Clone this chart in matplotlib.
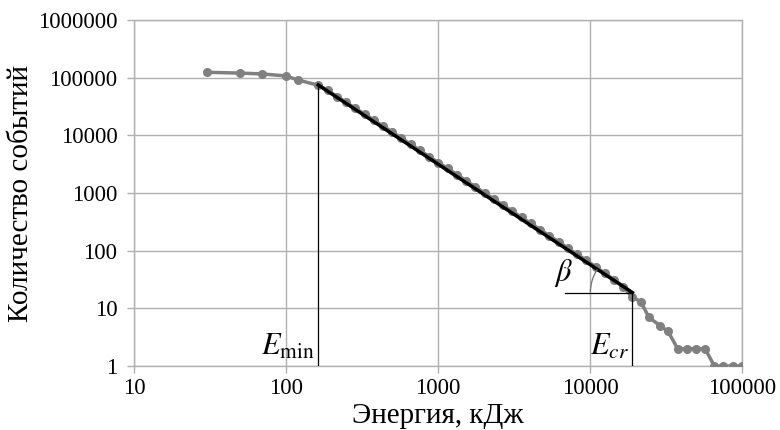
import numpy as np
import matplotlib
matplotlib.use('Agg')
import matplotlib.pyplot as plt
from matplotlib.patches import Arc
from matplotlib.transforms import IdentityTransform

plt.rcParams['font.family'] = ['Liberation Serif', 'DejaVu Serif']
plt.rcParams['mathtext.fontset'] = 'stix'

# energy bins (kJ) and number of events
energy = [30, 50, 70, 100, 120, 163, 188, 216, 248, 286, 329, 378, 435, 500, 575,
          662, 761, 875, 1007, 1158, 1332, 1532, 1762, 2027, 2332, 2682, 3085,
          3549, 4082, 4696, 5402, 6214, 7148, 8222, 9456, 10880, 12510, 14390,
          16550, 18800, 21600, 24400, 28900, 32600, 37700, 43300, 49800, 57100,
          65800, 75400, 87000, 100000]
events = [124000, 120000, 116000, 107000, 91000, 74000, 60000, 47000, 37500,
          29400, 23300, 18300, 14500, 11400, 8900, 7000, 5470, 4290, 3360, 2660,
          2080, 1630, 1280, 1000, 785, 615, 483, 378, 296, 232, 182, 143, 110,
          87, 68, 52.6, 40.7, 31.2, 23.9, 16, 13, 7, 5, 4, 2, 2, 2, 2, 1, 1, 1, 1]

# fitted power law between E_min and E_cr
fit_x = [163, 19000]
fit_y = [74700, 18.8]

x_ticks = [10, 100, 1000, 10000, 100000]
y_ticks = [1, 10, 100, 1000, 10000, 100000, 1000000]

fig = plt.figure(figsize=(7.8, 4.3), dpi=100)
ax = fig.add_axes([134 / 780, 1 - 366 / 430, 608 / 780, 346 / 430])
ax.set_xscale('log')
ax.set_yscale('log')
ax.set_xlim(10, 100000)
ax.set_ylim(1, 1000000)

grid_c = '#b0b0b0'
ax.set_xticks(x_ticks)
ax.set_xticklabels([str(v) for v in x_ticks])
ax.set_yticks(y_ticks)
ax.set_yticklabels([str(v) for v in y_ticks])
ax.minorticks_off()
ax.grid(True, color=grid_c, lw=1)
ax.set_axisbelow(True)
for s in ax.spines.values():
    s.set_color(grid_c)
    s.set_linewidth(1)
ax.tick_params(axis='both', colors=grid_c, labelcolor='black', labelsize=16.5,
               length=5, width=1)
ax.tick_params(axis='y', pad=7)
ax.tick_params(axis='x', pad=4)

ax.plot(energy, events, color='#808080', lw=2.5, marker='o', ms=5.5,
        mec='#808080', mfc='#808080', zorder=3)
ax.plot(fit_x, fit_y, color='black', lw=2.5, zorder=4)

# E_min and E_cr markers
ax.plot([fit_x[0], fit_x[0]], [1, fit_y[0]], color='black', lw=0.9, zorder=5)
ax.plot([fit_x[1], fit_x[1]], [1, fit_y[1]], color='black', lw=0.9, zorder=5)
ax.plot([fit_x[1] / 2.77, fit_x[1]], [fit_y[1], fit_y[1]], color='black', lw=0.9, zorder=5)

ax.text(fit_x[0] / 1.05, 1.2, r'$E_{\rm min}$', ha='right', va='bottom', fontsize=22)
ax.text(fit_x[1] / 1.05, 1.2, r'$E_{cr}$', ha='right', va='bottom', fontsize=22)
ax.text(fit_x[1] / 2.45, fit_y[1] * 1.15, r'$\beta$', ha='right', va='bottom', fontsize=22)

# angle arc in pixel space
p0 = ax.transData.transform((fit_x[1], fit_y[1]))
p1 = ax.transData.transform((fit_x[0], fit_y[0]))
ang = np.degrees(np.arctan2(p1[1] - p0[1], p1[0] - p0[0]))
arc = Arc(p0, 84, 84, theta1=ang, theta2=180, transform=IdentityTransform(),
          color='#707070', lw=0.9, zorder=5)
ax.add_artist(arc)

ax.set_xlabel('Энергия, кДж', fontsize=21)
ax.set_ylabel('Количество событий', fontsize=21)
ax.xaxis.set_label_coords(0.5, -0.108)
ax.yaxis.set_label_coords(-0.165, 0.5)

fig.savefig('out.png', dpi=100)
